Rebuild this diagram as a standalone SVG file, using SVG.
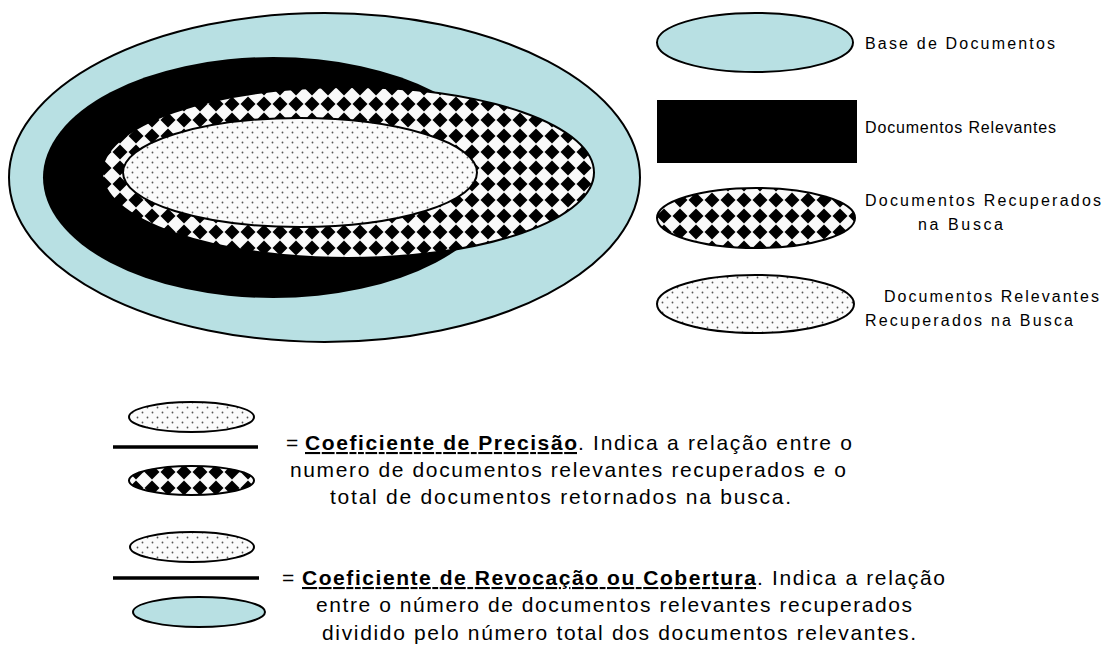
<svg xmlns="http://www.w3.org/2000/svg" width="1103" height="648" viewBox="0 0 1103 648">
<defs>
<pattern id="checker" patternUnits="userSpaceOnUse" width="16" height="16">
<rect width="16" height="16" fill="#fafafa"/>
<polygon points="8,0.5 15.5,8 8,15.5 0.5,8" fill="#000"/>
</pattern>
<pattern id="dots" patternUnits="userSpaceOnUse" width="10" height="10">
<rect width="10" height="10" fill="#fbfbfb"/>
<circle cx="2.5" cy="2.5" r="0.9" fill="#555"/>
<circle cx="7.5" cy="7.5" r="0.9" fill="#555"/>
</pattern>
<style>
.base{fill:#b8e0e3;stroke:#000;stroke-width:2}
.chk{fill:url(#checker);stroke:#000;stroke-width:2}
.dot{fill:url(#dots);stroke:#000;stroke-width:2}
.leg{font-family:"Liberation Sans",Arial,sans-serif;font-size:16px;fill:#000}
.txt{font-family:"Liberation Sans",Arial,sans-serif;font-size:21px;fill:#000}
.b{font-weight:bold;text-decoration:underline}
.bar{stroke:#000;stroke-width:3.5}
</style>
</defs>
<g id="main">
<ellipse class="base" cx="324.5" cy="177.5" rx="315.5" ry="164.5" stroke-width="1.5"/>
<ellipse cx="273" cy="177.5" rx="230" ry="120.5" fill="#000"/>
<ellipse class="chk" cx="348" cy="172.5" rx="246" ry="85.5"/>
<ellipse class="dot" cx="300" cy="172.5" rx="177" ry="54.5"/>
</g>
<g id="legend-base">
<ellipse class="base" cx="755" cy="42.5" rx="98" ry="29.5"/>
<text class="leg" x="865" y="49" textLength="190" lengthAdjust="spacing">Base de Documentos</text>
</g>
<g id="legend-relevant">
<rect x="657" y="100" width="200" height="63" fill="#000"/>
<text class="leg" x="865" y="133" textLength="191" lengthAdjust="spacing">Documentos Relevantes</text>
</g>
<g id="legend-retrieved">
<ellipse class="chk" cx="756" cy="218" rx="99" ry="30"/>
<text class="leg" x="865" y="206" textLength="236" lengthAdjust="spacing">Documentos Recuperados</text>
<text class="leg" x="918" y="230" textLength="85" lengthAdjust="spacing">na Busca</text>
</g>
<g id="legend-relevant-retrieved">
<ellipse class="dot" cx="755.5" cy="304" rx="98.5" ry="29"/>
<text class="leg" x="884" y="302" textLength="215" lengthAdjust="spacing">Documentos Relevantes</text>
<text class="leg" x="865" y="326" textLength="208" lengthAdjust="spacing">Recuperados na Busca</text>
</g>
<g id="precision">
<ellipse class="dot" cx="191.5" cy="417" rx="62.5" ry="15"/>
<line class="bar" x1="113" y1="447" x2="258" y2="447"/>
<ellipse class="chk" cx="191.5" cy="480.5" rx="62.5" ry="14.5"/>
<text class="txt" x="286" y="450">=</text>
<text class="txt b" x="305" y="450" textLength="272" lengthAdjust="spacing">Coeficiente de Precisão</text>
<text class="txt" x="578" y="450" textLength="274" lengthAdjust="spacing">. Indica a relação entre o</text>
<text class="txt" x="290" y="477" textLength="556" lengthAdjust="spacing">numero de documentos relevantes recuperados e o</text>
<text class="txt" x="330" y="504" textLength="461" lengthAdjust="spacing">total de documentos retornados na busca.</text>
</g>
<g id="recall">
<ellipse class="dot" cx="192" cy="547" rx="62" ry="15"/>
<line class="bar" x1="113" y1="578" x2="259" y2="578"/>
<ellipse class="base" cx="199" cy="612" rx="66" ry="15"/>
<text class="txt" x="282" y="585">=</text>
<text class="txt b" x="302" y="585" textLength="454" lengthAdjust="spacing">Coeficiente de Revocação ou Cobertura</text>
<text class="txt" x="757" y="585" textLength="188" lengthAdjust="spacing">. Indica a relação</text>
<text class="txt" x="316" y="612" textLength="596" lengthAdjust="spacing">entre o número de documentos relevantes recuperados</text>
<text class="txt" x="322" y="640" textLength="594" lengthAdjust="spacing">dividido pelo número total dos documentos relevantes.</text>
</g>
<g id="connectors"></g>
</svg>
